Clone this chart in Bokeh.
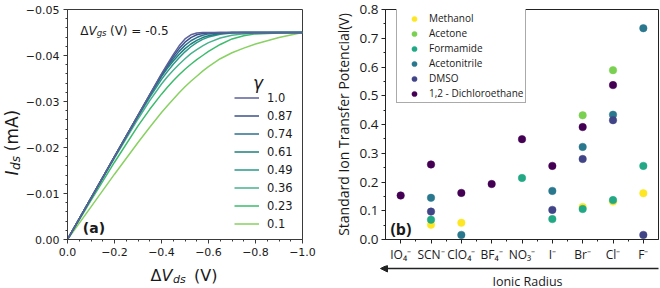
import numpy as np
from bokeh.plotting import figure
from bokeh.models import (Range1d, FixedTicker, Legend, LegendItem, Label, Arrow,
                          NormalHead, ColumnDataSource)
from bokeh.layouts import row, column
from bokeh.embed import file_html
from bokeh.resources import INLINE

# ---------------- Panel (a) data: I_ds (mA) vs ΔV_ds (V) ----------------
vds = [0.0, -0.1, -0.2, -0.3, -0.35, -0.4, -0.425, -0.45, -0.475, -0.5,
       -0.525, -0.55, -0.575, -0.6, -0.65, -0.7, -0.75, -0.8, -0.9, -1.0]
gamma_labels = ["1.0", "0.87", "0.74", "0.61", "0.49", "0.36", "0.23", "0.1"]
ids_g100 = [0, -.0090, -.0180, -.0270, -.0315, -.0360, -.0381, -.0402, -.0421, -.0436,
            -.0445, -.0449, -.0450, -.0450, -.0450, -.0450, -.0450, -.0450, -.0450, -.0450]
ids_g087 = [0, -.0090, -.0180, -.0270, -.0315, -.0359, -.0379, -.0398, -.0415, -.0429,
            -.0439, -.0445, -.0448, -.0449, -.0450, -.0450, -.0450, -.0450, -.0450, -.0450]
ids_g074 = [0, -.0090, -.0180, -.0270, -.0314, -.0357, -.0376, -.0393, -.0409, -.0422,
            -.0432, -.0439, -.0444, -.0447, -.0449, -.0450, -.0450, -.0450, -.0450, -.0450]
ids_g061 = [0, -.0090, -.0180, -.0269, -.0313, -.0354, -.0372, -.0388, -.0402, -.0415,
            -.0425, -.0433, -.0439, -.0443, -.0448, -.0450, -.0450, -.0450, -.0450, -.0450]
ids_g049 = [0, -.0090, -.0179, -.0267, -.0309, -.0348, -.0365, -.0381, -.0395, -.0408,
            -.0419, -.0428, -.0435, -.0440, -.0446, -.0449, -.0450, -.0450, -.0450, -.0450]
ids_g036 = [0, -.0089, -.0177, -.0262, -.0302, -.0338, -.0354, -.0368, -.0381, -.0393,
            -.0404, -.0413, -.0421, -.0428, -.0438, -.0444, -.0447, -.0449, -.0450, -.0450]
ids_g023 = [0, -.0085, -.0168, -.0247, -.0283, -.0316, -.0331, -.0345, -.0358, -.0370,
            -.0381, -.0391, -.0400, -.0409, -.0424, -.0436, -.0443, -.0447, -.0449, -.0450]
ids_g010 = [0, -.0071, -.0142, -.0211, -.0244, -.0276, -.0291, -.0305, -.0319, -.0332,
            -.0344, -.0355, -.0366, -.0376, -.0393, -.0406, -.0416, -.0425, -.0439, -.0450]
gamma_colors = ["#5d6199", "#3b528b", "#2c718e", "#1f7f7d", "#2a998a", "#48b28f", "#3dbb6d", "#88d162"]
a_xticks = [0.0, -0.2, -0.4, -0.6, -0.8, -1.0]
a_xlabels = ["0.0", "\u22120.2", "\u22120.4", "\u22120.6", "\u22120.8", "\u22121.0"]
a_yticks = [0.0, -0.01, -0.02, -0.03, -0.04, -0.05]
a_ylabels = ["0.00", "\u22120.01", "\u22120.02", "\u22120.03", "\u22120.04", "\u22120.05"]

# ---------------- Panel (b) data: standard ion transfer potential ----------------
anions = ["IO\u2084\u207b", "SCN\u207b", "ClO\u2084\u207b", "BF\u2084\u207b", "NO\u2083\u207b",
          "I\u207b", "Br\u207b", "Cl\u207b", "F\u207b"]
solvents = ["Methanol", "Acetone", "Formamide", "Acetonitrile", "DMSO", "1,2 - Dichloroethane"]
methanol     = [None, 0.051, 0.058, None, None, None, 0.113, 0.132, 0.161]
acetone      = [None, None, None, None, None, None, 0.432, 0.589, None]
formamide    = [None, 0.069, None, None, 0.214, 0.071, 0.106, 0.137, 0.256]
acetonitrile = [None, 0.145, 0.016, None, None, 0.169, 0.322, 0.434, 0.735]
dmso         = [None, 0.097, None, None, None, 0.103, 0.280, 0.415, 0.016]
dce          = [0.153, 0.261, 0.162, 0.193, 0.349, 0.256, 0.391, 0.537, None]
solvent_colors = ["#fde725", "#7ad151", "#22a884", "#2a788e", "#414487", "#440154"]
b_yticks = [0.0, 0.1, 0.2, 0.3, 0.4, 0.5, 0.6, 0.7, 0.8]
b_ylabels = ["0.0", "0.1", "0.2", "0.3", "0.4", "0.5", "0.6", "0.7", "0.8"]

TXT = "#1a1a1a"
TOP_H = 265          # height of the top row (strip + both panels)
BOT_H = 22           # bottom text strip
STRIP_BOTTOM = TOP_H + BOT_H


def addlab(p, x, y, text, size, style="normal", font="DejaVu Sans", angle=0.0,
           align="left", baseline="alphabetic"):
    p.add_layout(Label(x=x, y=y, text=text, text_font=font, text_font_size=f"{size}px",
                       text_font_style=style, angle=angle, text_align=align,
                       text_baseline=baseline, text_color=TXT))


def strip(w, h):
    s = figure(width=w, height=h, frame_width=w, frame_height=h,
               output_backend="svg", toolbar_location=None,
               x_range=Range1d(0, w), y_range=Range1d(0, h),
               x_axis_type=None, y_axis_type=None, title_location=None,
               min_border_left=0, min_border_right=0, min_border_top=0, min_border_bottom=0)
    s.outline_line_color = None
    s.background_fill_color = "white"
    s.border_fill_color = "white"
    return s


# ======================= Panel (a) =======================
A_X0 = 22                                   # page x where figure A starts
A_L, A_R, A_T, A_B = 64, 302, 7, 241        # frame, page px
pA = figure(width=308, height=TOP_H, output_backend="svg", toolbar_location=None,
            x_range=Range1d(0, -1.0), y_range=Range1d(0, -0.05),
            min_border_left=A_L - A_X0, min_border_right=330 - A_R,
            min_border_top=A_T, min_border_bottom=TOP_H - A_B)
pA.grid.visible = False
pA.outline_line_color = "#3a3a3a"
pA.background_fill_color = "white"
pA.border_fill_color = "white"


def ax(px):
    return -(px - A_L) / (A_R - A_L) * 1.0


def ay(py):
    return -(A_B - py) / (A_B - A_T) * 0.05


curves = [ids_g100, ids_g087, ids_g074, ids_g061, ids_g049, ids_g036, ids_g023, ids_g010]
rends = {}
for lab, ys, col in reversed(list(zip(gamma_labels, curves, gamma_colors))):
    src = ColumnDataSource(dict(x=vds, y=ys))
    rends[lab] = pA.line("x", "y", source=src, line_color=col, line_width=1.5)

pA.xaxis.ticker = FixedTicker(ticks=a_xticks, minor_ticks=list(np.round(np.arange(0, -1.0001, -0.05), 3)))
pA.yaxis.ticker = FixedTicker(ticks=a_yticks, minor_ticks=list(np.round(np.arange(0, -0.05001, -0.002), 4)))
pA.xaxis.major_label_overrides = dict(zip(a_xticks, a_xlabels))
pA.yaxis.major_label_overrides = dict(zip(a_yticks, a_ylabels))
for axis in (pA.xaxis, pA.yaxis):
    axis.axis_line_color = "#3a3a3a"
    axis.major_tick_line_color = "#3a3a3a"
    axis.minor_tick_line_color = "#3a3a3a"
    axis.major_tick_out = 4
    axis.major_tick_in = 0
    axis.minor_tick_out = 2
    axis.minor_tick_in = 0
    axis.major_label_text_font = "DejaVu Sans"
    axis.major_label_text_font_size = "11px"
    axis.major_label_text_color = TXT
pA.xaxis.major_label_standoff = 4
pA.yaxis.major_label_standoff = 4

# ΔV_gs (V) = -0.5
bl = 28.5
addlab(pA, ax(77), ay(bl), "\u0394", 12)
addlab(pA, ax(85.3), ay(bl), "V", 12, "italic")
addlab(pA, ax(93.6), ay(bl + 2.5), "gs", 8.5, "italic")
addlab(pA, ax(107), ay(bl), "(V) = -0.5", 12)
# (a)
addlab(pA, ax(79.5), ay(229), "(a)", 14, "bold", baseline="middle")
# legend title γ
addlab(pA, ax(257), ay(82), "\u03b3", 17, "italic", align="center", baseline="middle")

legA = Legend(items=[LegendItem(label=l, renderers=[rends[l]]) for l in gamma_labels],
              location=(231 - A_L, 8), glyph_width=25, glyph_height=15, label_height=15,
              spacing=3, label_standoff=8, padding=0, margin=0,
              border_line_color=None, background_fill_alpha=0,
              label_text_font="DejaVu Sans", label_text_font_size="11.5px",
              label_text_color=TXT)
pA.add_layout(legA)

# strip left of panel (a): rotated I_ds (mA), anchored at text centres
sAL = strip(A_X0, TOP_H)
def aly(py):
    return TOP_H - py
addlab(sAL, 11.5, aly(163.5), "I", 17, "italic", angle=np.pi / 2, align="center", baseline="middle")
addlab(sAL, 15.5, aly(153.5), "ds", 12, "italic", angle=np.pi / 2, align="center", baseline="middle")
addlab(sAL, 11.5, aly(121), "(mA)", 17, angle=np.pi / 2, align="center", baseline="middle")

# ======================= Panel (b) =======================
B_X0 = 330
B_L, B_R, B_T, B_B = 382, 658, 9, 242
pB = figure(width=329, height=TOP_H, output_backend="svg", toolbar_location=None,
            x_range=Range1d(0.5, 9.5), y_range=Range1d(0, 0.8),
            min_border_left=B_L - B_X0, min_border_right=659 - B_R,
            min_border_top=B_T, min_border_bottom=TOP_H - B_B)
pB.grid.visible = False
pB.outline_line_color = "#222222"
pB.background_fill_color = "white"
pB.border_fill_color = "white"


def bx(px):
    return 0.5 + (px - B_L) / (B_R - B_L) * 9.0


def by(py):
    return (B_B - py) / (B_B - B_T) * 0.8


series = [methanol, acetone, formamide, acetonitrile, dmso, dce]
rendsB = []
for name, vals, col in zip(solvents, series, solvent_colors):
    xs = [i + 1 for i, v in enumerate(vals) if v is not None]
    ys = [v for v in vals if v is not None]
    src = ColumnDataSource(dict(x=xs, y=ys))
    r = pB.scatter("x", "y", source=src, size=7.5, fill_color=col, line_color=col, line_width=0.5)
    rendsB.append((name, r))

xt = list(range(1, len(anions) + 1))
pB.xaxis.ticker = FixedTicker(ticks=xt, minor_ticks=[i + 0.5 for i in range(1, len(anions))])
pB.xaxis.major_label_overrides = dict(zip(xt, anions))
pB.yaxis.ticker = FixedTicker(ticks=b_yticks, minor_ticks=list(np.round(np.arange(0, 0.8001, 0.05), 3)))
pB.yaxis.major_label_overrides = dict(zip(b_yticks, b_ylabels))
for axis in (pB.xaxis, pB.yaxis):
    axis.axis_line_color = "#222222"
    axis.major_tick_line_color = "#222222"
    axis.minor_tick_line_color = "#222222"
    axis.major_tick_out = 4
    axis.major_tick_in = 0
    axis.minor_tick_out = 2
    axis.minor_tick_in = 0
    axis.major_label_text_font = "Open Sans"
    axis.major_label_text_color = TXT
pB.xaxis.major_label_text_font_size = "12px"
pB.yaxis.major_label_text_font_size = "13.5px"
pB.xaxis.major_label_standoff = 2
pB.yaxis.major_label_standoff = 3
pB.yaxis.axis_label = "Standard Ion Transfer Potencial(V)"
pB.yaxis.axis_label_text_font = "Open Sans"
pB.yaxis.axis_label_text_font_size = "14px"
pB.yaxis.axis_label_text_font_style = "normal"
pB.yaxis.axis_label_text_color = TXT
pB.yaxis.axis_label_standoff = 4

addlab(pB, bx(387), by(231), "(b)", 16, "bold", font="Open Sans", baseline="middle")

legB = Legend(items=[LegendItem(label=n, renderers=[r]) for n, r in rendsB],
              location=(393 - B_L, B_B - 106), glyph_width=30, glyph_height=13, label_height=13,
              spacing=1, label_standoff=0, padding=2, margin=0,
              border_line_color="#555555", border_line_width=1,
              background_fill_color="white", background_fill_alpha=1,
              label_text_font="Open Sans", label_text_font_size="10px",
              label_text_color=TXT)
pB.add_layout(legB)

# ======================= bottom strip (page x = data x) =======================
sBot = strip(659, BOT_H)
def sy(py):
    return STRIP_BOTTOM - py
# ΔV_ds (V) under panel (a)
xb = 275
addlab(sBot, 150, sy(xb), "\u0394", 16)
addlab(sBot, 161, sy(xb), "V", 16, "italic")
addlab(sBot, 172.5, sy(xb + 3.5), "ds", 11, "italic")
addlab(sBot, 193.5, sy(xb), "(V)", 16)
# arrow + Ionic Radius under panel (b)
sBot.add_layout(Arrow(x_start=658, y_start=sy(268), x_end=380, y_end=sy(268),
                      line_color="#222222", line_width=1.3,
                      end=NormalHead(size=7, fill_color="#222222", line_color="#222222")))
addlab(sBot, 527, sy(281), "Ionic Radius", 12.5, font="Open Sans", align="center")

layout = column(row(sAL, pA, pB), sBot)
with open("out.html", "w") as f:
    f.write(file_html(layout, INLINE))
